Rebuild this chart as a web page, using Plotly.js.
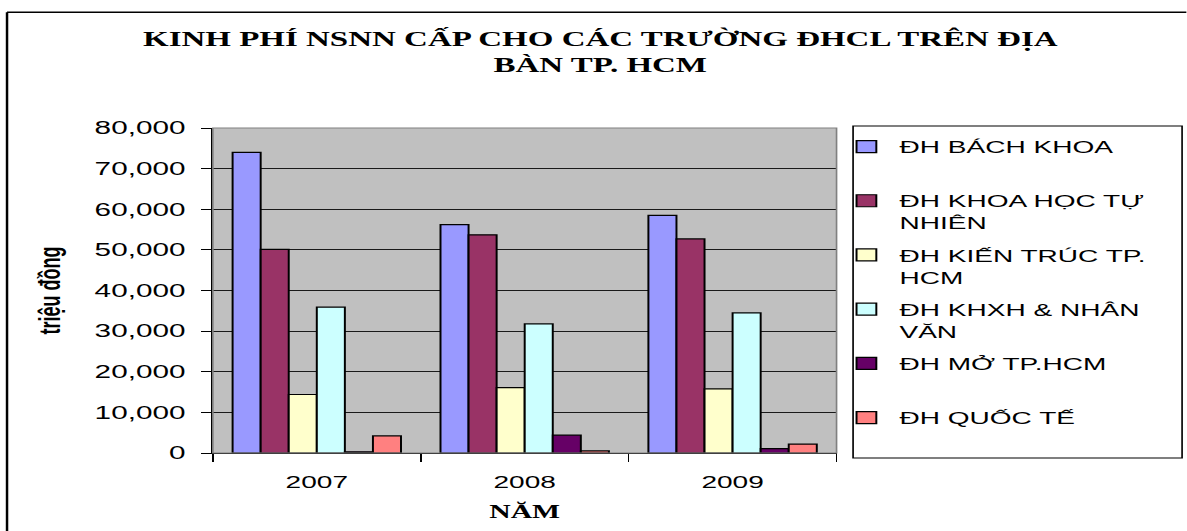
<!DOCTYPE html>
<html>
<head>
<meta charset="utf-8">
<script src="https://cdn.plot.ly/plotly-3.0.1.min.js"></script>
<style>
  html, body { margin: 0; padding: 0; background: #fff; overflow: hidden; }
  #wrap { position: absolute; left: 0; top: 0; width: 719px; height: 531px;
          transform: scaleX(1.65); transform-origin: 0 0; }
</style>
</head>
<body>
<div id="wrap"><div id="chart"></div></div>
<script>
// ---- data ----
var years = ['2007', '2008', '2009'];
var seriesNames = [
  'ĐH BÁCH KHOA<br>\u00a0',
  'ĐH KHOA HỌC TỰ<br>NHIÊN',
  'ĐH KIẾN TRÚC TP.<br>HCM',
  'ĐH KHXH & NHÂN<br>VĂN',
  'ĐH MỞ TP.HCM<br>\u00a0',
  'ĐH QUỐC TẾ<br>\u00a0'
];
var bachKhoa   = [74000, 56200, 58500];
var khoaHocTN  = [50100, 53700, 52700];
var kienTruc   = [14400, 16100, 15800];
var khxhNV     = [35900, 31800, 34500];
var moTPHCM    = [300, 4400, 1100];
var quocTe     = [4200, 500, 2200];
var seriesValues = [bachKhoa, khoaHocTN, kienTruc, khxhNV, moTPHCM, quocTe];
var seriesColors = ['#9999FF', '#993366', '#FFFFCC', '#CCFFFF', '#660066', '#FF8080'];

var traces = seriesValues.map(function (vals, i) {
  return {
    type: 'bar',
    name: seriesNames[i],
    x: years,
    y: vals,
    legendgroup: 'g' + i,
    marker: { color: seriesColors[i], line: { color: '#000', width: 1.2 } },
    hoverinfo: 'x+y+name'
  };
});

var sans = 'Liberation Sans, Arial, sans-serif';
var serif = 'Liberation Serif, Times New Roman, serif';

var layout = {
  width: 719,
  height: 531,
  margin: { l: 129, r: 212, t: 128, b: 78 },
  paper_bgcolor: '#ffffff',
  plot_bgcolor: '#C0C0C0',
  barmode: 'group',
  bargap: 0.19,
  bargroupgap: 0,
  title: {
    text: 'KINH PHÍ NSNN CẤP CHO CÁC TRƯỜNG ĐHCL TRÊN ĐỊA<br>BÀN TP. HCM',
    font: { family: serif, size: 20, color: '#000', weight: 'bold' },
    xref: 'container', x: 0.506, xanchor: 'center',
    yref: 'container', y: 0.913, yanchor: 'top'
  },
  xaxis: {
    type: 'category',
    tickson: 'boundaries',
    ticks: 'outside', ticklen: 8, tickcolor: '#000', tickwidth: 1,
    showline: true, linecolor: '#000', linewidth: 1,
    tickfont: { family: sans, size: 17, color: '#000' },
    ticklabelstandoff: 14,
    title: { text: 'NĂM', font: { family: serif, size: 18, color: '#000', weight: 'bold' }, standoff: 14 },
    showgrid: false,
    fixedrange: true
  },
  yaxis: {
    range: [0, 80000],
    dtick: 10000,
    tickformat: ',d',
    ticks: 'outside', ticklen: 6, tickcolor: '#000', tickwidth: 1,
    showline: true, linecolor: '#000', linewidth: 1,
    tickfont: { family: sans, size: 18, color: '#000' },
    ticklabelstandoff: 6,
    gridcolor: '#1a1a1a', gridwidth: 1,
    zeroline: false,
    title: { text: 'triệu đồng', font: { family: sans, size: 18, color: '#000', weight: 'bold' }, standoff: 15 },
    fixedrange: true
  },
  showlegend: true,
  legend: {
    x: 0.995, xanchor: 'left',
    y: 0.997, yanchor: 'top',
    bgcolor: 'rgba(0,0,0,0)',
    borderwidth: 0,
    font: { family: sans, size: 17, color: '#000' },
    valign: 'top',
    tracegroupgap: 7,
    traceorder: 'grouped',
    maxheight: 500
  },
  shapes: [
    // plot area border (gray)
    { type: 'rect', xref: 'paper', yref: 'paper', x0: 0, x1: 1, y0: 0, y1: 1,
      line: { color: '#808080', width: 1 }, layer: 'above' },
    // legend box
    { type: 'rect', xref: 'paper', yref: 'paper', x0: 1.0265, x1: 1.554, y0: -0.0154, y1: 1.006,
      line: { color: '#000', width: 1 }, fillcolor: 'rgba(0,0,0,0)' },
    // outer frame left
    { type: 'line', xref: 'paper', yref: 'paper', x0: -0.330, x1: -0.330, y0: -0.3, y1: 1.356,
      line: { color: '#000', width: 1.5 } },
    // outer frame top
    { type: 'line', xref: 'paper', yref: 'paper', x0: -0.330, x1: 1.7, y0: 1.356, y1: 1.356,
      line: { color: '#000', width: 1.5 } }
  ]
};

Plotly.newPlot('chart', traces, layout, { displayModeBar: false, responsive: false });
</script>
</body>
</html>
